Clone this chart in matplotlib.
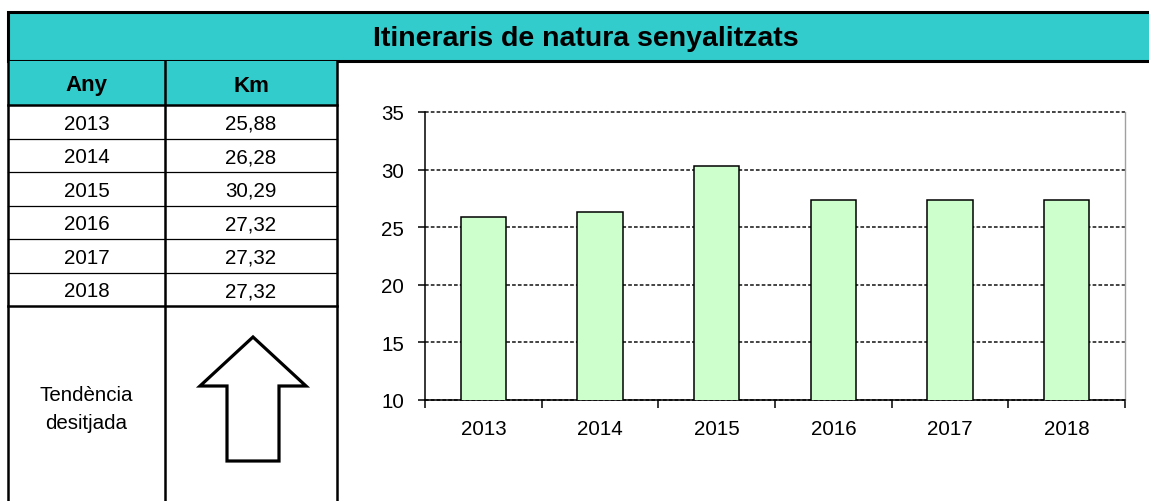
import matplotlib
matplotlib.use("Agg")
import matplotlib.pyplot as plt
from matplotlib.patches import Rectangle, Polygon
import numpy as np

plt.rcParams['font.family'] = ['Liberation Sans', 'DejaVu Sans']

title = "Itineraris de natura senyalitzats"
col_headers = ["Any", "Km"]
years = ["2013", "2014", "2015", "2016", "2017", "2018"]
km = [25.88, 26.28, 30.29, 27.32, 27.32, 27.32]
trend_lines = ["Tendència", "desitjada"]
y_ticks = [10, 15, 20, 25, 30, 35]

W, H = 1149, 502
DPI = 100
fig = plt.figure(figsize=(W / DPI, H / DPI), dpi=DPI)
fig.patch.set_facecolor("white")

bg = fig.add_axes([0, 0, 1, 1])
bg.set_xlim(0, W)
bg.set_ylim(H, 0)
bg.axis("off")

TEAL = "#33CCCC"
FS = 14.8
bg.add_patch(Rectangle((8, 13), W - 8 + 5, 49, facecolor=TEAL, edgecolor="black", lw=2.2, zorder=1))
bg.text(586, 39, title, ha="center", va="center", fontsize=20.5, fontweight="bold", color="black", zorder=3)

x0, x1, x2 = 8, 165, 337
hdr_top, hdr_bot = 62, 106
row_h = (307 - 106) / 6
bg.add_patch(Rectangle((x0, hdr_top), x2 - x0, hdr_bot - hdr_top, facecolor=TEAL, edgecolor="none", zorder=1))
bg.text((x0 + x1) / 2, 86, col_headers[0], ha="center", va="center", fontsize=16, fontweight="bold")
bg.text((x1 + x2) / 2, 86, col_headers[1], ha="center", va="center", fontsize=16, fontweight="bold")

for i, (yr, v) in enumerate(zip(years, km)):
    yc = hdr_bot + row_h * (i + 0.5) + 1.5
    bg.text((x0 + x1) / 2, yc, yr, ha="center", va="center", fontsize=FS)
    bg.text((x1 + x2) / 2, yc, f"{v:.2f}".replace(".", ","), ha="center", va="center", fontsize=FS)
    if i < len(years) - 1:
        yl = hdr_bot + row_h * (i + 1)
        bg.plot([x0, x2], [yl, yl], color="black", lw=0.9, zorder=2)

bg.plot([x0, x2], [hdr_bot, hdr_bot], color="black", lw=1.8, zorder=2)
bg.plot([x0, x2], [307, 307], color="black", lw=1.8, zorder=2)
for xv in (x0, x1, x2):
    bg.plot([xv, xv], [hdr_top, H + 2], color="black", lw=1.8, zorder=2)

bg.text((x0 + x1) / 2, 396, trend_lines[0], ha="center", va="center", fontsize=FS)
bg.text((x0 + x1) / 2, 424, trend_lines[1], ha="center", va="center", fontsize=FS)

arrow = [(253, 338), (306, 387), (279, 387), (279, 462), (227, 462), (227, 387), (200, 387)]
bg.add_patch(Polygon(arrow, closed=True, facecolor="white", edgecolor="black", lw=2.3, joinstyle="miter", zorder=3))

ax = fig.add_axes([425 / W, (H - 401) / H, 700 / W, 288 / H])
x = np.arange(len(years))
ax.bar(x, km, width=0.39, color="#CCFFCC", edgecolor="black", linewidth=1.1, zorder=3)
ax.set_xlim(-0.5, len(years) - 0.5)
ax.set_ylim(10, 35)
ax.set_yticks(y_ticks)
ax.set_yticklabels([str(t) for t in y_ticks])
ax.set_xticks(x)
ax.set_xticklabels(years)
ax.set_xticks(np.arange(-0.5, len(years), 1.0), minor=True)
ax.tick_params(axis="x", which="major", length=0, pad=14, labelsize=FS)
ax.tick_params(axis="x", which="minor", length=6, width=1.1, color="black", direction="out")
ax.tick_params(axis="y", length=5, width=1.1, pad=10, labelsize=FS, direction="out")
ax.yaxis.grid(True, color="#111111", linestyle=(0, (2.4, 1.4)), lw=1.1, zorder=0)
for gl in ax.get_ygridlines():
    gl.set_clip_on(False)
ax.set_axisbelow(True)
ax.spines["top"].set_visible(False)
ax.spines["left"].set_linewidth(1.1)
ax.spines["bottom"].set_linewidth(1.1)
ax.spines["right"].set_color("#A0A0A0")
ax.spines["right"].set_linewidth(1.0)
ax.set_facecolor("white")

fig.savefig("out.png", dpi=DPI, facecolor="white")
